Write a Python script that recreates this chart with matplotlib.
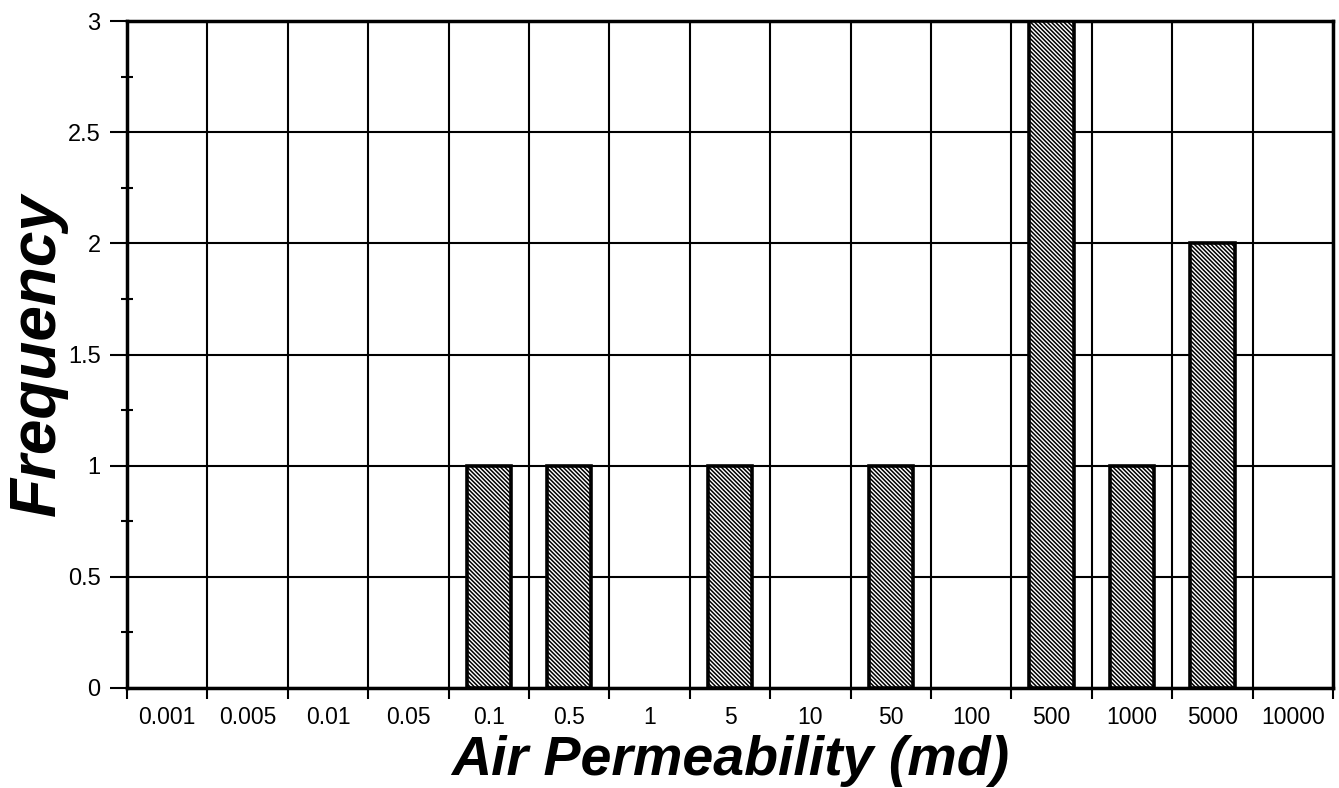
import matplotlib
matplotlib.use("Agg")
import matplotlib.pyplot as plt
import numpy as np
from matplotlib.ticker import MultipleLocator, FixedLocator, NullFormatter

categories = ["0.001", "0.005", "0.01", "0.05", "0.1", "0.5", "1", "5", "10",
              "50", "100", "500", "1000", "5000", "10000"]
frequency = [0, 0, 0, 0, 1, 1, 0, 1, 0, 1, 0, 3, 1, 2, 0]

plt.rcParams['font.family'] = ['Liberation Sans', 'DejaVu Sans']
plt.rcParams['hatch.linewidth'] = 1.1

fig = plt.figure(figsize=(13.39, 7.88), dpi=100)
ax = fig.add_axes([127/1339, 1-688/788, (1333-127)/1339, (688-21)/788])

x = np.arange(len(categories))
bars = ax.bar(x, frequency, width=0.55, color='white', edgecolor='black',
              linewidth=2.6, hatch='\\' * 8, zorder=3)
for b, v in zip(bars, frequency):
    if v == 0:
        b.set_visible(False)

ax.set_xlim(-0.5, len(categories) - 0.5)
ax.set_ylim(0, 3)

# boundaries between categories as grid/ticks
ax.xaxis.set_major_locator(FixedLocator(np.arange(-0.5, len(categories), 1.0)))
ax.xaxis.set_major_formatter(NullFormatter())
ax.xaxis.set_minor_locator(FixedLocator(x))
ax.set_xticklabels(categories, minor=True)
ax.tick_params(axis='x', which='minor', length=0, labelsize=16.5, pad=13)
ax.tick_params(axis='x', which='major', length=8, width=1.5, direction='out')

ax.set_yticks([0, 0.5, 1, 1.5, 2, 2.5, 3])
ax.set_yticklabels(["0", "0.5", "1", "1.5", "2", "2.5", "3"])
ax.yaxis.set_minor_locator(MultipleLocator(0.25))
ax.tick_params(axis='y', which='major', length=12, width=1.5, direction='out', labelsize=17, pad=7)
ax.tick_params(axis='y', which='minor', length=8, width=1.5, direction='inout')

ax.grid(True, which='major', color='black', linewidth=1.5, zorder=0)
ax.set_axisbelow(True)

for s in ax.spines.values():
    s.set_linewidth(2.5)
    s.set_color('black')

ax.set_xlabel("Air Permeability (md)", fontsize=40, fontweight='bold',
              fontstyle='italic', labelpad=4)
ax.set_ylabel("Frequency", fontsize=46, fontweight='bold',
              fontstyle='italic', labelpad=0)

fig.savefig("out.png", dpi=100)
